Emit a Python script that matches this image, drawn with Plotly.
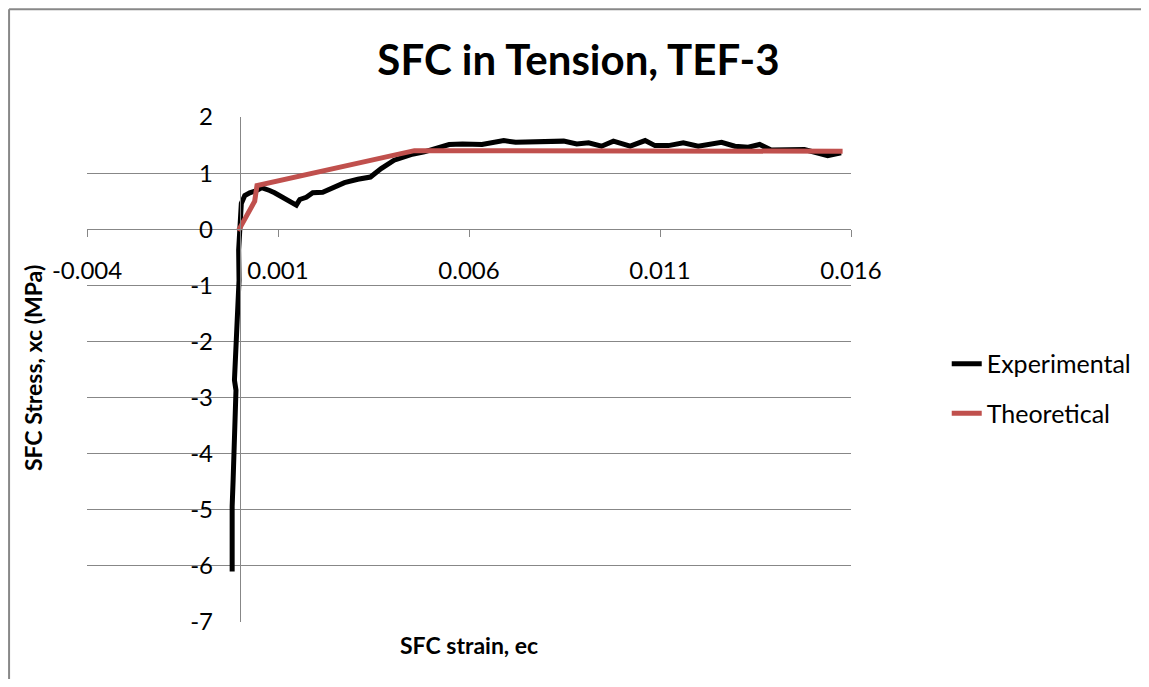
import plotly.graph_objects as go

exp_strain = [
    -0.00020, -0.00022, -0.00020, -0.000175, -0.00015, -0.00010, -0.00014,
    -0.00009, -0.00004, -0.00002, -0.00003, 0.00000, 0.00004, 0.00013,
    0.00026, 0.00044, 0.00057, 0.00078, 0.00091, 0.00148, 0.00157, 0.00174,
    0.00191, 0.00217, 0.00248, 0.00274, 0.00309, 0.00342, 0.00370, 0.00404,
    0.00448, 0.00483, 0.00548, 0.00583, 0.00634, 0.00691, 0.00722, 0.00783,
    0.00848, 0.00882, 0.00913, 0.00947, 0.00978, 0.01022, 0.01061, 0.01087,
    0.01122, 0.01161, 0.01200, 0.01261, 0.01296, 0.01331, 0.01361, 0.01391,
    0.01478, 0.01539, 0.01574,
]
exp_stress = [
    -6.10, -5.36, -4.94, -4.47, -3.63, -2.87, -2.69,
    -2.09, -1.26, -0.91, -0.37, 0.22, 0.46, 0.60,
    0.65, 0.69, 0.74, 0.69, 0.65, 0.43, 0.53, 0.57,
    0.65, 0.66, 0.75, 0.83, 0.89, 0.93, 1.08, 1.23,
    1.33, 1.38, 1.51, 1.52, 1.51, 1.58, 1.55, 1.55,
    1.57, 1.52, 1.54, 1.48, 1.57, 1.48, 1.58, 1.49,
    1.49, 1.54, 1.48, 1.55, 1.48, 1.46, 1.51, 1.41,
    1.42, 1.31, 1.36,
]

# Theoretical curve
theo_strain = [-0.00004, 0.00039, 0.00045, 0.00457, 0.01578]
theo_stress = [-0.03, 0.50, 0.78, 1.40, 1.39]

x_ticks = [-0.004, 0.001, 0.006, 0.011, 0.016]
y_ticks = [-7, -6, -5, -4, -3, -2, -1, 0, 1, 2]

FONT = "Lato"
GRID = "#878787"

fig = go.Figure()

fig.add_trace(
    go.Scatter(
        x=exp_strain,
        y=exp_stress,
        mode="lines",
        name="Experimental",
        legendgroup="exp",
        line=dict(color="#000000", width=5),
    )
)
fig.add_trace(
    go.Scatter(
        x=theo_strain,
        y=theo_stress,
        mode="lines",
        name="Theoretical",
        legendgroup="theo",
        line=dict(color="#C0504D", width=5),
    )
)

# x axis crosses at y=0, y axis crosses at x=0 (Excel style)
fig.update_xaxes(
    range=[-0.004, 0.016],
    tickvals=x_ticks,
    ticktext=[f"{v:g}" for v in x_ticks],
    showgrid=False,
    zeroline=False,
    showline=True,
    linecolor=GRID,
    linewidth=1,
    ticks="outside",
    ticklen=7,
    tickcolor=GRID,
    anchor="free",
    position=7 / 9,
    ticklabelstandoff=13,
    tickfont=dict(family=FONT, size=24, color="#000000"),
)
fig.update_yaxes(
    range=[-7, 2],
    tickvals=y_ticks,
    ticktext=[str(v) for v in y_ticks],
    showgrid=True,
    gridcolor=GRID,
    gridwidth=1,
    zeroline=False,
    showline=True,
    linecolor=GRID,
    linewidth=1,
    anchor="free",
    position=0.2,
    ticklabelstandoff=22,
    tickfont=dict(family=FONT, size=24, color="#000000"),
)

# Axis titles placed as in the original chart
fig.add_annotation(
    text="<b>SFC strain, ec</b>",
    xref="paper", yref="paper", x=0.5, y=-0.0455,
    showarrow=False, xanchor="center", yanchor="middle",
    font=dict(family=FONT, size=23, color="#000000"),
)
fig.add_annotation(
    text="<b>SFC Stress, xc (MPa)</b>",
    xref="paper", yref="paper", x=-0.0705, y=0.503,
    showarrow=False, xanchor="center", yanchor="middle", textangle=-90,
    font=dict(family=FONT, size=23, color="#000000"),
)

# Chart-area border: only the top and left edges show in the original
fig.add_shape(
    type="line", xref="paper", yref="paper",
    x0=-0.102, y0=1.2135, x1=1.5, y1=1.2135,
    line=dict(color="#888888", width=2),
)
fig.add_shape(
    type="line", xref="paper", yref="paper",
    x0=-0.102, y0=-0.2, x1=-0.102, y1=1.2135,
    line=dict(color="#888888", width=2),
)

fig.update_layout(
    title=dict(
        text="<b>SFC in Tension, TEF-3</b>",
        x=0.5, y=0.9225, xanchor="center", yanchor="middle",
        xref="container", yref="container",
        font=dict(family=FONT, size=42, color="#000000"),
    ),
    legend=dict(
        x=1.1253, y=0.4626, xanchor="left", yanchor="middle",
        font=dict(family=FONT, size=25, color="#000000"),
        tracegroupgap=14,
        bgcolor="rgba(0,0,0,0)",
    ),
    width=1141,
    height=671,
    margin=dict(l=79, r=296, t=109, b=57),
    plot_bgcolor="white",
    paper_bgcolor="white",
)

fig.write_html("out.html")
